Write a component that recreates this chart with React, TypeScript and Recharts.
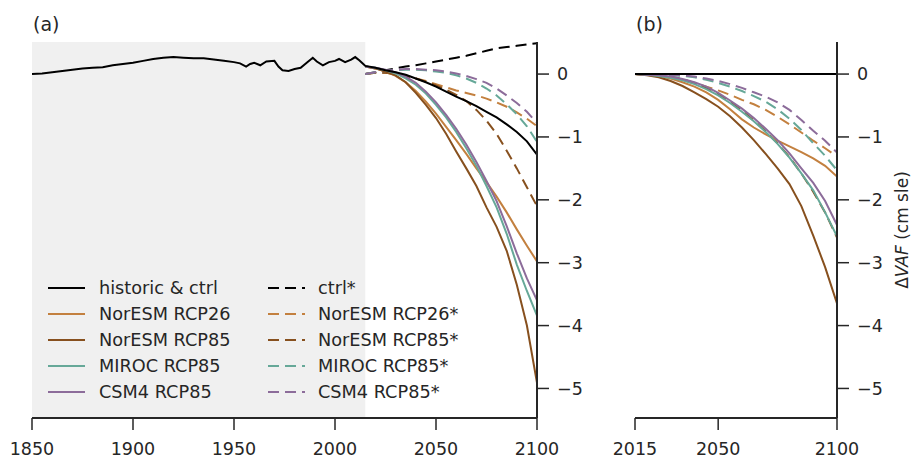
import React from 'react';
import { LineChart, Line, XAxis, YAxis, ReferenceArea } from 'recharts';

// historic run (panel a, grey part)
const histYears = [1850, 1855, 1860, 1865, 1870, 1875, 1880, 1885, 1890, 1895, 1900, 1905, 1910, 1915, 1920, 1925, 1930, 1935, 1940, 1945, 1950, 1953, 1956, 1958, 1960, 1963, 1966, 1970, 1972, 1974, 1977, 1980, 1983, 1986, 1989, 1991, 1994, 1997, 2000, 2002, 2005, 2008, 2010, 2012, 2014];
const histValues = [0.0, 0.01, 0.03, 0.05, 0.07, 0.09, 0.1, 0.11, 0.14, 0.16, 0.18, 0.21, 0.24, 0.26, 0.27, 0.26, 0.25, 0.25, 0.23, 0.21, 0.19, 0.17, 0.12, 0.16, 0.18, 0.14, 0.2, 0.21, 0.12, 0.06, 0.05, 0.08, 0.1, 0.18, 0.26, 0.2, 0.14, 0.19, 0.21, 0.24, 0.19, 0.23, 0.27, 0.22, 0.16];

const futureYears = [2015, 2020, 2025, 2030, 2035, 2040, 2045, 2050, 2055, 2060, 2065, 2070, 2075, 2080, 2085, 2090, 2095, 2100];

// panel a, future
const aCtrl = [0.13, 0.1, 0.06, 0.03, -0.01, -0.07, -0.13, -0.2, -0.28, -0.36, -0.43, -0.51, -0.6, -0.69, -0.8, -0.92, -1.07, -1.28];
const aCtrlStar = [0.0, 0.03, 0.06, 0.09, 0.12, 0.14, 0.17, 0.2, 0.23, 0.26, 0.29, 0.33, 0.37, 0.41, 0.43, 0.45, 0.47, 0.49];
const aRcp26 = [0.12, 0.09, 0.04, -0.03, -0.13, -0.27, -0.44, -0.63, -0.84, -1.05, -1.27, -1.5, -1.72, -1.95, -2.2, -2.47, -2.73, -2.98];
const aRcp85 = [0.12, 0.09, 0.04, -0.02, -0.13, -0.3, -0.49, -0.7, -0.95, -1.23, -1.5, -1.78, -2.12, -2.43, -2.81, -3.35, -4.0, -4.91];
const aMiroc = [0.12, 0.1, 0.06, 0.01, -0.07, -0.17, -0.31, -0.49, -0.69, -0.92, -1.18, -1.46, -1.78, -2.12, -2.54, -3.03, -3.45, -3.84];
const aCsm4 = [0.12, 0.1, 0.07, 0.03, -0.04, -0.14, -0.28, -0.45, -0.65, -0.87, -1.12, -1.4, -1.7, -2.02, -2.42, -2.85, -3.25, -3.6];
const aRcp26Star = [0, 0.02, 0.02, 0.0, -0.03, -0.07, -0.11, -0.16, -0.21, -0.26, -0.3, -0.34, -0.39, -0.45, -0.52, -0.61, -0.71, -0.83];
const aRcp85Star = [0, 0.02, 0.02, 0.0, -0.03, -0.07, -0.12, -0.18, -0.25, -0.33, -0.43, -0.57, -0.74, -0.95, -1.22, -1.5, -1.8, -2.1];
const aMirocStar = [0, 0.03, 0.05, 0.06, 0.07, 0.07, 0.06, 0.04, 0.02, -0.02, -0.07, -0.14, -0.23, -0.34, -0.48, -0.64, -0.83, -1.08];
const aCsm4Star = [0, 0.03, 0.05, 0.07, 0.08, 0.08, 0.07, 0.06, 0.04, 0.01, -0.03, -0.08, -0.14, -0.23, -0.34, -0.46, -0.6, -0.78];

// panel b, relative to each control
const bCtrl = [0, 0, 0, 0, 0, 0, 0, 0, 0, 0, 0, 0, 0, 0, 0, 0, 0, 0];
const bCtrlStar = [0, 0, 0, 0, 0, 0, 0, 0, 0, 0, 0, 0, 0, 0, 0, 0, 0, 0];
const bRcp26 = [0, -0.01, -0.03, -0.07, -0.13, -0.2, -0.29, -0.41, -0.56, -0.72, -0.85, -0.96, -1.06, -1.15, -1.24, -1.34, -1.46, -1.63];
const bRcp85 = [0, -0.02, -0.05, -0.11, -0.19, -0.29, -0.4, -0.52, -0.67, -0.85, -1.05, -1.27, -1.5, -1.75, -2.1, -2.57, -3.07, -3.65];
const bMiroc = [0, -0.01, -0.03, -0.06, -0.1, -0.16, -0.24, -0.34, -0.46, -0.6, -0.75, -0.92, -1.11, -1.33, -1.58, -1.85, -2.2, -2.58];
const bCsm4 = [0, -0.01, -0.02, -0.04, -0.08, -0.13, -0.2, -0.3, -0.42, -0.55, -0.7, -0.87, -1.05, -1.26, -1.5, -1.73, -2.02, -2.4];
const bRcp26Star = [0, -0.01, -0.02, -0.05, -0.09, -0.14, -0.2, -0.26, -0.33, -0.41, -0.48, -0.57, -0.68, -0.8, -0.93, -1.06, -1.18, -1.31];
const bRcp85Star = [0, -0.01, -0.02, -0.04, -0.08, -0.14, -0.22, -0.32, -0.44, -0.58, -0.74, -0.91, -1.1, -1.32, -1.58, -1.87, -2.2, -2.6];
const bMirocStar = [0, 0, -0.01, -0.02, -0.03, -0.05, -0.09, -0.14, -0.2, -0.27, -0.35, -0.44, -0.56, -0.71, -0.89, -1.1, -1.3, -1.53];
const bCsm4Star = [0, 0, -0.01, -0.01, -0.02, -0.04, -0.07, -0.11, -0.16, -0.22, -0.29, -0.36, -0.45, -0.57, -0.73, -0.9, -1.06, -1.25];

const xTicksA = [1850, 1900, 1950, 2000, 2050, 2100];
const xTicksB = [2015, 2050, 2100];
const yTicks = [-5, -4, -3, -2, -1, 0];

const INK = '#262626';
const FONT = 'DejaVu Sans, sans-serif';
const DASH = '11 6';

const series = [
  { key: 'ctrl', label: 'historic & ctrl', color: '#000000', dashed: false },
  { key: 'rcp26', label: 'NorESM RCP26', color: '#c3803f', dashed: false },
  { key: 'rcp85', label: 'NorESM RCP85', color: '#87501e', dashed: false },
  { key: 'miroc', label: 'MIROC RCP85', color: '#66a898', dashed: false },
  { key: 'csm4', label: 'CSM4 RCP85', color: '#8c6c9a', dashed: false },
  { key: 'ctrlStar', label: 'ctrl*', color: '#000000', dashed: true },
  { key: 'rcp26Star', label: 'NorESM RCP26*', color: '#c3803f', dashed: true },
  { key: 'rcp85Star', label: 'NorESM RCP85*', color: '#87501e', dashed: true },
  { key: 'mirocStar', label: 'MIROC RCP85*', color: '#66a898', dashed: true },
  { key: 'csm4Star', label: 'CSM4 RCP85*', color: '#8c6c9a', dashed: true },
];

const rowsA = [
  ...histYears.map((year, i) => ({ year, ctrl: histValues[i] })),
  ...futureYears.map((year, i) => ({
    year,
    ctrl: aCtrl[i],
    ctrlStar: aCtrlStar[i],
    rcp26: aRcp26[i],
    rcp85: aRcp85[i],
    miroc: aMiroc[i],
    csm4: aCsm4[i],
    rcp26Star: aRcp26Star[i],
    rcp85Star: aRcp85Star[i],
    mirocStar: aMirocStar[i],
    csm4Star: aCsm4Star[i],
  })),
];

const rowsB = futureYears.map((year, i) => ({
  year,
  ctrl: bCtrl[i],
  ctrlStar: bCtrlStar[i],
  rcp26: bRcp26[i],
  rcp85: bRcp85[i],
  miroc: bMiroc[i],
  csm4: bCsm4[i],
  rcp26Star: bRcp26Star[i],
  rcp85Star: bRcp85Star[i],
  mirocStar: bMirocStar[i],
  csm4Star: bCsm4Star[i],
}));

const fmtY = (v: number) => (v < 0 ? '\u2212' + Math.abs(v) : String(v));
const tickStyle = { fill: INK, fontSize: 17.5, fontFamily: FONT };
const Y_DOMAIN: [number, number] = [-5.47, 0.51];

// draw order: dashed first, solids on top, black last
const drawOrder = [...series.filter((s) => s.dashed), ...series.filter((s) => !s.dashed && s.key !== 'ctrl'), series[0]];

const renderLines = () =>
  drawOrder.map((s) => (
    <Line
      key={s.key}
      dataKey={s.key}
      stroke={s.color}
      strokeWidth={2}
      strokeDasharray={s.dashed ? DASH : undefined}
      dot={false}
      activeDot={false}
      isAnimationActive={false}
      type="linear"
    />
  ));

const Overlay = () => {
  const rowY = [288, 314, 340, 366, 392];
  const left = series.filter((s) => !s.dashed);
  const right = series.filter((s) => s.dashed);
  return (
    <svg width={914} height={460} style={{ position: 'absolute', left: 0, top: 0, pointerEvents: 'none' }}>
      <text x={33} y={31} fontSize={19} fontFamily={FONT} fill={INK}>(a)</text>
      <text x={636} y={31} fontSize={19} fontFamily={FONT} fill={INK}>(b)</text>
      {left.map((s, i) => (
        <g key={s.key}>
          <line x1={48} x2={85} y1={rowY[i]} y2={rowY[i]} stroke={s.color} strokeWidth={2} />
          <text x={99} y={rowY[i]} dy="0.36em" fontSize={17.7} fontFamily={FONT} fill={INK}>{s.label}</text>
        </g>
      ))}
      {right.map((s, i) => (
        <g key={s.key}>
          <line x1={268} x2={305} y1={rowY[i]} y2={rowY[i]} stroke={s.color} strokeWidth={2} strokeDasharray={DASH} />
          <text x={318} y={rowY[i]} dy="0.36em" fontSize={17.7} fontFamily={FONT} fill={INK}>{s.label}</text>
        </g>
      ))}
      <text
        x={902}
        y={230}
        transform="rotate(-90 902 230)"
        textAnchor="middle"
        dy="0.36em"
        fontSize={17}
        fontFamily={FONT}
        fill={INK}
      >
        Δ<tspan fontStyle="italic">VAF</tspan> (cm sle)
      </text>
    </svg>
  );
};

export default function App() {
  return (
    <div style={{ position: 'absolute', left: 0, top: 0, width: 914, height: 460, background: '#fff', overflow: 'hidden' }}>
      <div style={{ position: 'absolute', left: 0, top: 0 }}>
        <LineChart width={600} height={460} data={rowsA} margin={{ top: 42, right: 0, bottom: 12, left: 32 }}>
          <ReferenceArea x1={1850} x2={2015} y1={Y_DOMAIN[0]} y2={Y_DOMAIN[1]} fill="#f0f0f0" fillOpacity={1} stroke="none" ifOverflow="hidden" />
          <XAxis
            dataKey="year"
            type="number"
            domain={[1850, 2100]}
            ticks={xTicksA}
            height={30}
            tickSize={12}
            tickMargin={13}
            tick={tickStyle}
            axisLine={{ stroke: INK, strokeWidth: 2 }}
            tickLine={{ stroke: INK, strokeWidth: 1.5 }}
            allowDataOverflow
          />
          <YAxis
            orientation="right"
            type="number"
            domain={Y_DOMAIN}
            ticks={yTicks}
            width={63}
            tickSize={12}
            tickMargin={8}
            tick={tickStyle}
            tickFormatter={fmtY}
            axisLine={{ stroke: INK, strokeWidth: 2 }}
            tickLine={{ stroke: INK, strokeWidth: 1.5 }}
            allowDataOverflow
          />
          {renderLines()}
        </LineChart>
      </div>
      <div style={{ position: 'absolute', left: 600, top: 0 }}>
        <LineChart width={314} height={460} data={rowsB} margin={{ top: 42, right: 0, bottom: 12, left: 35 }}>
          <XAxis
            dataKey="year"
            type="number"
            domain={[2015, 2100]}
            ticks={xTicksB}
            height={30}
            tickSize={12}
            tickMargin={13}
            tick={tickStyle}
            axisLine={{ stroke: INK, strokeWidth: 2 }}
            tickLine={{ stroke: INK, strokeWidth: 1.5 }}
            allowDataOverflow
          />
          <YAxis
            orientation="right"
            type="number"
            domain={Y_DOMAIN}
            ticks={yTicks}
            width={77}
            tickSize={12}
            tickMargin={8}
            tick={tickStyle}
            tickFormatter={fmtY}
            axisLine={{ stroke: INK, strokeWidth: 2 }}
            tickLine={{ stroke: INK, strokeWidth: 1.5 }}
            allowDataOverflow
          />
          {renderLines()}
        </LineChart>
      </div>
      <Overlay />
    </div>
  );
}
